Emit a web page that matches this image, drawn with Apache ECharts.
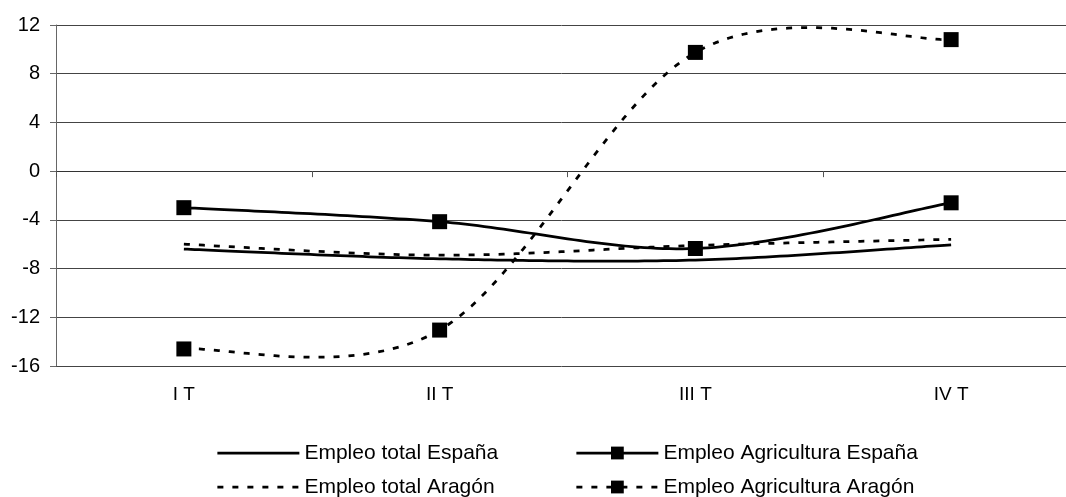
<!DOCTYPE html>
<html>
<head>
<meta charset="utf-8">
<script src="https://cdn.jsdelivr.net/npm/echarts@6/dist/echarts.min.js"></script>
<style>html,body{margin:0;padding:0;background:#fff}#c{width:1066px;height:497px}</style>
</head>
<body>
<div id="c"></div>
<script>
const categories = ['I T', 'II T', 'III T', 'IV T'];
const totalEspana = [-6.4, -7.2, -7.3, -6.05];
const totalAragon = [-6.0, -6.9, -6.1, -5.6];
const agriEspana = [-3.0, -4.15, -6.35, -2.6];
const agriAragon = [-14.6, -13.05, 9.75, 10.8];
const yTicks = { min: -16, max: 12, interval: 4 };

const FONT = 'Liberation Sans, Arial, sans-serif';
const LW = 2.75;
const DASH = [6, 9];

// Excel-style smoothed curve (Bezier with 1/6 tangent), drawn from data via the axes
function makeCurve(name, values, dashed) {
  return {
    name: name + ' (curva)', type: 'custom', coordinateSystem: 'cartesian2d',
    data: values.map((v, i) => [i, v]), encode: { x: 0, y: 1 }, z: 2, silent: true,
    renderItem: function (params, api) {
      if (params.dataIndex !== 0) return null;
      const pts = values.map((v, i) => api.coord([i, v]));
      const out = [pts[0]];
      const S = 40;
      for (let i = 0; i < pts.length - 1; i++) {
        const p0 = pts[i], p1 = pts[i + 1];
        const pm = pts[i - 1] || p0, pn = pts[i + 2] || p1;
        const c1 = [p0[0] + (p1[0] - pm[0]) / 6, p0[1] + (p1[1] - pm[1]) / 6];
        const c2 = [p1[0] - (pn[0] - p0[0]) / 6, p1[1] - (pn[1] - p0[1]) / 6];
        for (let k = 1; k <= S; k++) {
          const t = k / S, u = 1 - t;
          const a = u * u * u, b = 3 * u * u * t, c = 3 * u * t * t, d = t * t * t;
          out.push([a * p0[0] + b * c1[0] + c * c2[0] + d * p1[0], a * p0[1] + b * c1[1] + c * c2[1] + d * p1[1]]);
        }
      }
      return {
        type: 'polyline', shape: { points: out },
        style: { stroke: '#000', lineWidth: LW, fill: null, lineDash: dashed ? DASH : null, lineJoin: 'round' }
      };
    }
  };
}

const chart = echarts.init(document.getElementById('c'), null, { renderer: 'canvas' });
const hiddenLine = { opacity: 0 };
function legendFor(name, left, top, dashed, marker) {
  return {
    data: [name], left: left, top: top, padding: 0, orient: 'horizontal',
    itemWidth: 82, itemHeight: 16, selectedMode: false,
    textStyle: { fontFamily: FONT, fontSize: 21, color: '#000', lineHeight: 22 },
    lineStyle: { opacity: 1, color: '#000', width: LW, type: dashed ? DASH : 'solid' },
    itemStyle: { opacity: marker ? 1 : 0, color: '#000' }
  };
}
chart.setOption({
  animation: false,
  backgroundColor: '#fff',
  grid: { left: 56, top: 25, width: 1023, height: 341, containLabel: false, outerBoundsMode: 'none' },
  legend: [
    legendFor('Empleo total España', 216, 442, false, false),
    legendFor('Empleo total Aragón', 216, 476, true, false),
    legendFor('Empleo Agricultura España', 575, 442, false, true),
    legendFor('Empleo Agricultura Aragón', 575, 476, true, true)
  ],
  xAxis: [
    {
      type: 'category', data: categories, boundaryGap: true,
      axisLine: { onZero: true, lineStyle: { color: '#333', width: 1 } },
      axisTick: { show: true, length: 6, lineStyle: { color: '#555' } },
      axisLabel: { show: false }, splitLine: { show: false }
    },
    {
      type: 'category', data: categories, position: 'bottom', boundaryGap: true,
      axisLine: { show: false }, axisTick: { show: false }, splitLine: { show: false },
      axisLabel: { margin: 19, fontFamily: FONT, fontSize: 19, color: '#000' }
    }
  ],
  yAxis: {
    type: 'value', min: yTicks.min, max: yTicks.max, interval: yTicks.interval,
    axisLine: { show: true, lineStyle: { color: '#666', width: 1 } },
    axisTick: { show: true, length: 6, lineStyle: { color: '#666' } },
    axisLabel: { margin: 16, fontFamily: FONT, fontSize: 20, color: '#000' },
    splitLine: { show: true, lineStyle: { color: '#444', width: 1 } }
  },
  series: [
    makeCurve('Empleo total España', totalEspana, false),
    makeCurve('Empleo Agricultura España', agriEspana, false),
    makeCurve('Empleo total Aragón', totalAragon, true),
    makeCurve('Empleo Agricultura Aragón', agriAragon, true),
    { name: 'Empleo total España', type: 'line', data: totalEspana, symbol: 'none', lineStyle: hiddenLine, itemStyle: { color: '#000' }, z: 3 },
    { name: 'Empleo Agricultura España', type: 'line', data: agriEspana, symbol: 'rect', symbolSize: 15, lineStyle: Object.assign({ type: 'solid', width: LW, color: '#000' }, hiddenLine), itemStyle: { color: '#000' }, z: 3 },
    { name: 'Empleo total Aragón', type: 'line', data: totalAragon, symbol: 'none', lineStyle: Object.assign({ type: DASH, width: LW, color: '#000' }, hiddenLine), itemStyle: { color: '#000' }, z: 3 },
    { name: 'Empleo Agricultura Aragón', type: 'line', data: agriAragon, symbol: 'rect', symbolSize: 15, lineStyle: Object.assign({ type: DASH, width: LW, color: '#000' }, hiddenLine), itemStyle: { color: '#000' }, z: 3 }
  ]
});
</script>
</body>
</html>
